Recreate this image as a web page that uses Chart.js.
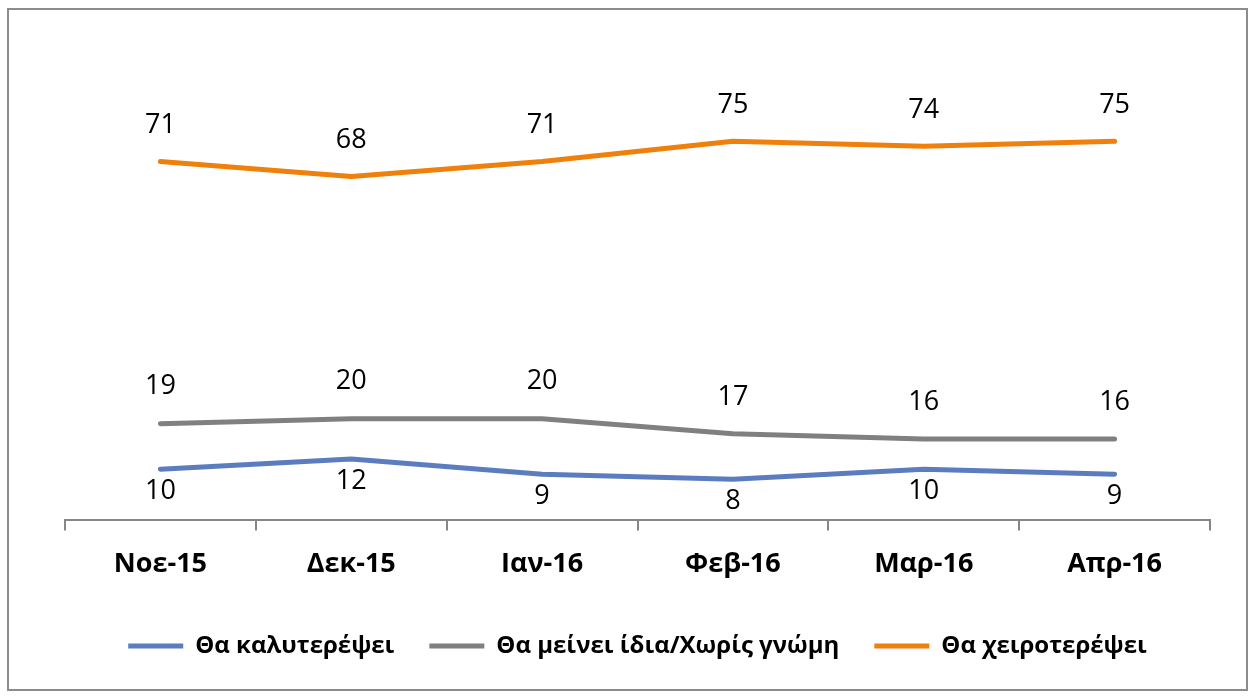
<!DOCTYPE html>
<html>
<head>
<meta charset="utf-8">
<script src="https://cdn.jsdelivr.net/npm/chart.js@4/dist/chart.umd.min.js"></script>
<style>
html,body{margin:0;padding:0;background:#fff;}
#wrap{position:relative;width:1253px;height:697px;}
</style>
</head>
<body>
<div id="wrap"><canvas id="c" width="1253" height="697"></canvas></div>
<script>
const categories = ['Νοε-15', 'Δεκ-15', 'Ιαν-16', 'Φεβ-16', 'Μαρ-16', 'Απρ-16'];
const seriesNames = ['Θα καλυτερέψει', 'Θα μείνει ίδια/Χωρίς γνώμη', 'Θα χειροτερέψει'];
const better = [10, 12, 9, 8, 10, 9];
const same = [19, 20, 20, 17, 16, 16];
const worse = [71, 68, 71, 75, 74, 75];

const FONT = "'Open Sans', 'Noto Sans', sans-serif";

const borderPlugin = {
  id: 'frame',
  beforeDraw(chart) {
    const ctx = chart.ctx;
    ctx.save();
    ctx.fillStyle = '#fff';
    ctx.fillRect(0, 0, chart.width, chart.height);
    ctx.strokeStyle = '#8c8c8c';
    ctx.lineWidth = 2;
    ctx.strokeRect(8, 9, 1239, 681);
    ctx.restore();
  }
};

const labelPlugin = {
  id: 'valueLabels',
  afterDatasetsDraw(chart, args, opts) {
    const ctx = chart.ctx;
    ctx.save();
    ctx.font = '27px ' + FONT;
    ctx.fillStyle = '#000';
    ctx.textAlign = 'center';
    ctx.textBaseline = 'middle';
    chart.data.datasets.forEach((ds, i) => {
      const meta = chart.getDatasetMeta(i);
      const off = opts.offsets[i];
      meta.data.forEach((pt, j) => {
        ctx.fillText(String(ds.data[j]), pt.x, pt.y + off);
      });
    });
    ctx.restore();
  }
};

function ds(label, data, color) {
  return {
    label, data,
    borderColor: color, backgroundColor: color,
    borderWidth: 5, pointRadius: 0, tension: 0,
    borderCapStyle: 'round', borderJoinStyle: 'round'
  };
}

new Chart(document.getElementById('c'), {
  type: 'line',
  data: {
    labels: categories,
    datasets: [
      ds(seriesNames[0], better, '#5b7dbf'),
      ds(seriesNames[1], same, '#808080'),
      ds(seriesNames[2], worse, '#ef800c')
    ]
  },
  options: {
    responsive: false,
    animation: false,
    layout: { padding: { left: 65, right: 43, top: 116, bottom: 29 } },
    scales: {
      x: {
        offset: true,
        grid: { display: true, drawOnChartArea: false, drawTicks: true, tickLength: 11, color: '#868686', lineWidth: 2, offset: true },
        border: { display: true, color: '#868686', width: 2 },
        ticks: { color: '#000', font: { family: FONT, size: 27, weight: 'bold' }, padding: 18 }
      },
      y: { display: false, min: 0, max: 80 }
    },
    plugins: {
      legend: {
        position: 'bottom',
        labels: {
          usePointStyle: true, pointStyle: 'line', pointStyleWidth: 55, boxWidth: 46, boxHeight: 22,
          color: '#000', font: { family: FONT, size: 24, weight: 'bold' }, padding: 35
        }
      },
      tooltip: { enabled: false },
      valueLabels: { offsets: [22, -37, -36] }
    }
  },
  plugins: [borderPlugin, labelPlugin]
});
</script>
</body>
</html>
